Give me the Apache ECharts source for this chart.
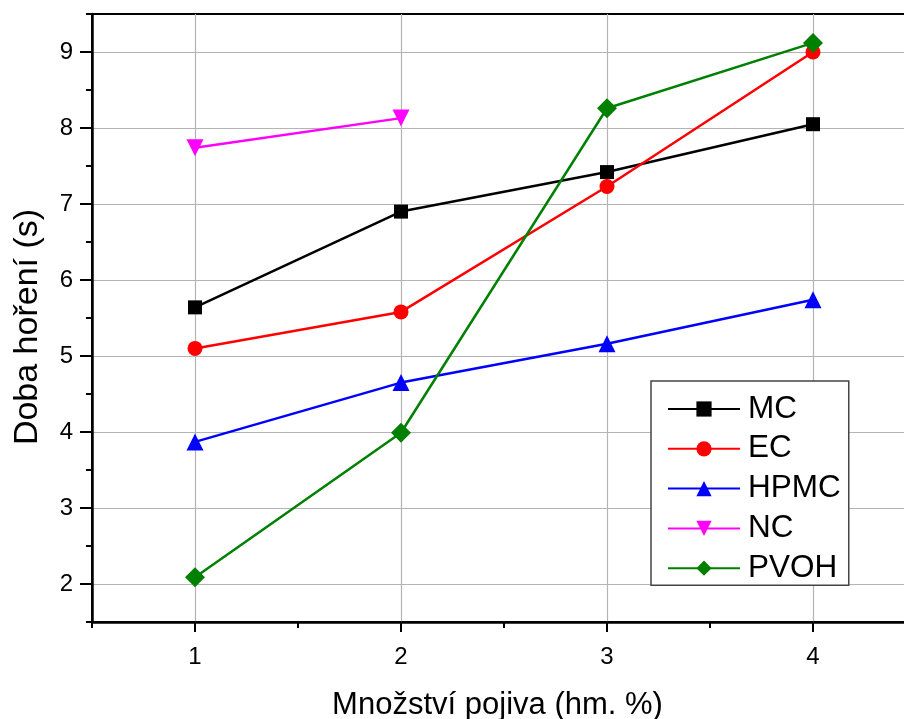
<!DOCTYPE html>
<html><head><meta charset="utf-8">
<script src="https://cdn.jsdelivr.net/npm/echarts@6/dist/echarts.min.js"></script>
<style>html,body{margin:0;padding:0;background:#fff}#c{width:904px;height:719px}</style>
</head><body><div id="c"></div>
<script>
const xValues = [1, 2, 3, 4];
const seriesNames = ['MC', 'EC', 'HPMC', 'NC', 'PVOH'];
const mc = [5.64, 6.90, 7.42, 8.05];
const ec = [5.10, 5.58, 7.23, 9.00];
const hpmc = [3.87, 4.65, 5.16, 5.74];
const nc = [7.74, 8.13];
const pvoh = [2.09, 3.99, 8.26, 9.12];
const xTickValues = [1, 2, 3, 4];
const yTickValues = [2, 3, 4, 5, 6, 7, 8, 9];

const colors = ['#000000', '#ff0000', '#0000ff', '#ff00ff', '#008000'];
const symbols = ['rect', 'circle', 'triangle', 'path://M0,0 L10,0 L5,10 Z', 'diamond'];
const sizes = [14, 15, 17, 17, 20];
const datasets = [mc, ec, hpmc, nc, pvoh];
const FONT = 'Liberation Sans, Arial, sans-serif';
const GRIDC = ['rgba(0,0,0,0)', '#b4b4b4'];

const chart = echarts.init(document.getElementById('c'));
chart.setOption({
  animation: false,
  textStyle: { fontFamily: FONT },
  grid: { left: 92, top: 14, right: -12, bottom: 97, show: true, borderColor: '#000', borderWidth: 2,
          containLabel: false, outerBoundsMode: 'none' },
  xAxis: [{
    type: 'value', min: 0.5, max: 4.5, interval: 0.5,
    name: 'Množství pojiva (hm. %)', nameLocation: 'middle', nameGap: 68,
    nameTextStyle: { fontSize: 31, color: '#000', fontFamily: FONT, padding: [0, 13, 0, 0] },
    axisLine: { lineStyle: { color: '#000', width: 2.5 } },
    axisTick: { show: true, length: 6, lineStyle: { color: '#000', width: 2 } },
    axisLabel: { show: false },
    splitLine: { show: true, lineStyle: { color: GRIDC, width: 1.2 } }
  }, {
    type: 'value', min: 0.5, max: 4.5, position: 'bottom', offset: 0,
    axisLine: { show: false },
    axisTick: { show: true, length: 10, customValues: xTickValues, lineStyle: { color: '#000', width: 2 } },
    axisLabel: { show: true, customValues: xTickValues, fontSize: 24, color: '#000', margin: 23, fontFamily: FONT },
    splitLine: { show: false }
  }],
  yAxis: [{
    type: 'value', min: 1.5, max: 9.5, interval: 0.5,
    name: 'Doba hoření (s)', nameLocation: 'middle', nameGap: 47,
    nameTextStyle: { fontSize: 34, color: '#000', fontFamily: FONT, padding: [0, 18, 0, 0] },
    axisLine: { show: true, lineStyle: { color: '#000', width: 2.5 } },
    axisTick: { show: true, length: 6, lineStyle: { color: '#000', width: 2 } },
    axisLabel: { show: false },
    splitLine: { show: true, lineStyle: { color: GRIDC, width: 1.2 } }
  }, {
    type: 'value', min: 1.5, max: 9.5, position: 'left', offset: 0,
    axisLine: { show: false },
    axisTick: { show: true, length: 12, customValues: yTickValues, lineStyle: { color: '#000', width: 2 } },
    axisLabel: { show: true, customValues: yTickValues, fontSize: 24, color: '#000', margin: 19, fontFamily: FONT },
    splitLine: { show: false }
  }],
  legend: {
    orient: 'vertical', left: 651, top: 381,
    backgroundColor: '#fff', borderColor: '#444', borderWidth: 1.5,
    padding: [12, 8, 1, 16], itemGap: 7.8, itemWidth: 72, itemHeight: 19,
    textStyle: { fontSize: 31.5, lineHeight: 30, color: '#000', fontFamily: FONT, padding: [0, 0, 0, 3] },
    data: seriesNames
  },
  series: datasets.map((d, i) => ({
    name: seriesNames[i], type: 'line',
    xAxisIndex: 0, yAxisIndex: 0,
    data: d.map((v, j) => [xValues[j], v]),
    symbol: symbols[i], symbolSize: sizes[i],
    lineStyle: { color: colors[i], width: 2.5 },
    itemStyle: { color: colors[i] },
    z: 3 + i
  }))
});
</script></body></html>
